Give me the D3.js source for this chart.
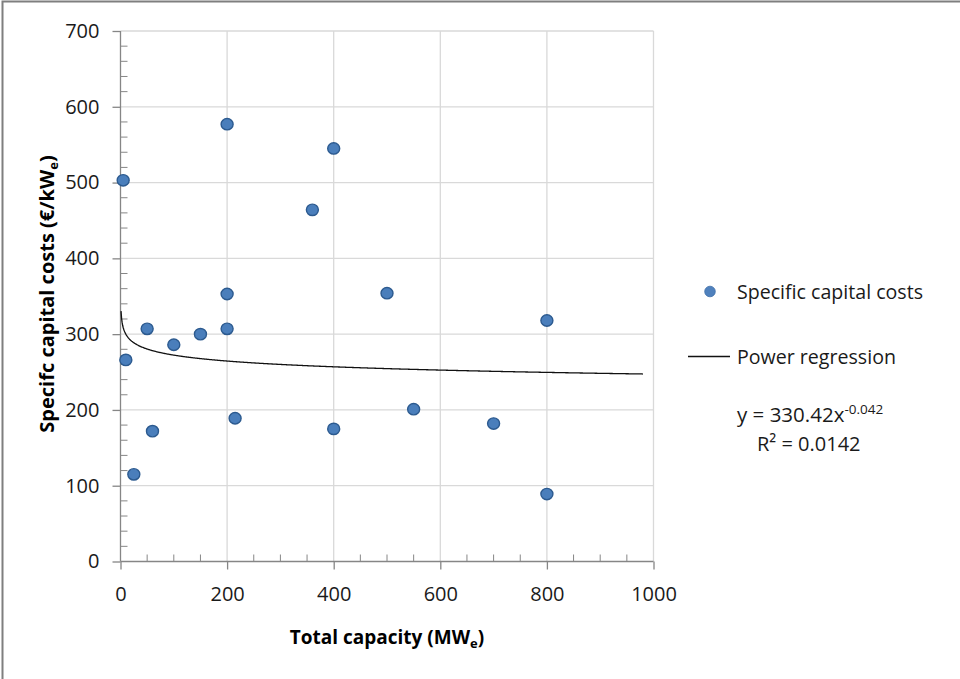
<!DOCTYPE html>
<html>
<head>
<meta charset="utf-8">
<script src="https://cdn.jsdelivr.net/npm/d3@7/dist/d3.min.js"></script>
<style>
  html, body { margin: 0; padding: 0; background: #fff; }
  svg { display: block; }
  text { font-family: "Open Sans", "Liberation Sans", sans-serif; }
</style>
</head>
<body>
<svg id="chart" width="960" height="679"></svg>
<script>
// ---- Data ----
const capacity = [5, 200, 360, 400, 200, 500, 800, 50, 200, 150, 100, 10, 550, 215, 400, 700, 60, 25, 800];
const specificCost = [503, 577, 464, 545, 353, 354, 318, 307, 307, 300, 286, 266, 201, 189, 175, 182, 172, 115, 89];
const xTicks = [0, 200, 400, 600, 800, 1000];
const yTicks = [0, 100, 200, 300, 400, 500, 600, 700];
// Power regression y = a * x^b (as printed in the chart)
const trendA = 330.42;
const trendB = -0.042;
const trendRange = [1, 980];
const seriesName = "Specific capital costs";
const trendName = "Power regression";

const svg = d3.select("#chart");

const x = d3.scaleLinear().domain([0, 1000]).range([120.5, 653.5]);
const y = d3.scaleLinear().domain([0, 700]).range([561.5, 31]);

// outer frame (only top and left visible)
svg.append("path")
  .attr("d", "M2.5,679 V1.5 H960")
  .attr("fill", "none").attr("stroke", "#7f7f7f").attr("stroke-width", 2);

// gridlines
const grid = svg.append("g").attr("stroke", "#d9d9d9").attr("stroke-width", 1.3);
grid.selectAll(".gy").data(yTicks.filter(d => d > 0)).join("line")
  .attr("x1", x(0)).attr("x2", x(1000))
  .attr("y1", d => y(d)).attr("y2", d => y(d));
grid.selectAll(".gx").data(xTicks.filter(d => d > 0)).join("line")
  .attr("y1", y(0)).attr("y2", y(700))
  .attr("x1", d => x(d)).attr("x2", d => x(d));

const axisColor = "#868686";
// Y axis: major ticks outside, minor inside
const yAxis = svg.append("g").attr("transform", `translate(${x(0)},0)`);
yAxis.call(d3.axisLeft(y).tickValues(yTicks).tickSize(8).tickPadding(13).tickFormat(d3.format("d")));
const yMinor = d3.range(0, 701, 20).filter(d => d % 100 !== 0);
yAxis.selectAll(".minor").data(yMinor).join("line")
  .attr("class", "minor")
  .attr("x1", 0).attr("x2", 7).attr("y1", d => y(d)).attr("y2", d => y(d))
  .attr("stroke", axisColor);

// X axis
const xAxis = svg.append("g").attr("transform", `translate(0,${y(0)})`);
xAxis.call(d3.axisBottom(x).tickValues(xTicks).tickSize(8).tickPadding(17).tickFormat(d3.format("d")));
const xMinor = d3.range(0, 1001, 50).filter(d => d % 200 !== 0);
xAxis.selectAll(".minor").data(xMinor).join("line")
  .attr("class", "minor")
  .attr("y1", 0).attr("y2", -7).attr("x1", d => x(d)).attr("x2", d => x(d))
  .attr("stroke", axisColor);

[yAxis, xAxis].forEach(g => {
  g.select(".domain").attr("stroke", axisColor).attr("stroke-width", 1.3);
  g.selectAll(".tick line").attr("stroke", axisColor).attr("stroke-width", 1.3);
  g.selectAll(".tick text").attr("font-size", 20).attr("fill", "#1a1a1a")
    .style("font-family", "'Open Sans', sans-serif");
});
yAxis.select(".domain").attr("d", `M0,${y(700)}V${y(0)}`);
xAxis.select(".domain").attr("d", `M${x(0)},0H${x(1000)}`);

// trend line
const trendX = d3.range(trendRange[0], trendRange[1] + 0.1, 1);
const trendData = trendX.map(v => [v, trendA * Math.pow(v, trendB)]);
svg.append("path")
  .datum(trendData)
  .attr("fill", "none").attr("stroke", "#111").attr("stroke-width", 1.3)
  .attr("d", d3.line().x(d => x(d[0])).y(d => y(d[1])));

// points
const pts = capacity.map((c, i) => ({ c, v: specificCost[i] }));
svg.append("g").selectAll("ellipse").data(pts).join("ellipse")
  .attr("cx", d => x(d.c)).attr("cy", d => y(d.v))
  .attr("rx", 6).attr("ry", 5.7)
  .attr("fill", "#4a7ebb").attr("stroke", "#2c5a8f").attr("stroke-width", 1.4);

// axis titles
const xt = svg.append("text")
  .attr("x", 387).attr("y", 644)
  .attr("text-anchor", "middle").attr("font-weight", "bold").attr("font-size", 19).attr("fill", "#000");
xt.append("tspan").text("Total capacity (MW");
xt.append("tspan").attr("font-size", 13).attr("dy", 4).text("e");
xt.append("tspan").attr("dy", -4).text(")");

const yt = svg.append("text")
  .attr("transform", "translate(54,294) rotate(-90)")
  .attr("text-anchor", "middle").attr("font-weight", "bold").attr("font-size", 20).attr("fill", "#000");
yt.append("tspan").text("Specifc capital costs (€/kW");
yt.append("tspan").attr("font-size", 13).attr("dy", 4).text("e");
yt.append("tspan").attr("dy", -4).text(")");

// legend
const lg = svg.append("g").attr("fill", "#1a1a1a");
lg.append("circle").attr("cx", 710).attr("cy", 291.5).attr("r", 5.3).attr("fill", "#4f81bd").attr("stroke", "#3f6fa8").attr("stroke-width", 0.8);
lg.append("text").attr("x", 737).attr("y", 299).attr("font-size", 19.6).text(seriesName);
lg.append("line").attr("x1", 688).attr("x2", 730).attr("y1", 356.5).attr("y2", 356.5).attr("stroke", "#111").attr("stroke-width", 1.3);
lg.append("text").attr("x", 737).attr("y", 363.5).attr("font-size", 19.6).text(trendName);
const eq = lg.append("text").attr("x", 737).attr("y", 422).attr("font-size", 20.5);
eq.append("tspan").text(`y = ${trendA}x`);
eq.append("tspan").attr("font-size", 13.5).attr("dy", -8).text(`${trendB}`);
lg.append("text").attr("x", 757).attr("y", 450.5).attr("font-size", 20).text("R² = 0.0142");
</script>
</body>
</html>
